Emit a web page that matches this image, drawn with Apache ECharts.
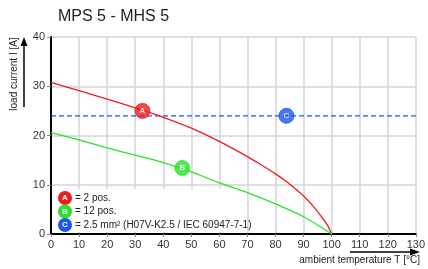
<!DOCTYPE html>
<html>
<head>
<meta charset="utf-8">
<script src="https://cdn.jsdelivr.net/npm/echarts@6/dist/echarts.min.js"></script>
<style>
  html, body { margin: 0; padding: 0; background: #fff; }
  #chart { width: 428px; height: 269px; }
</style>
</head>
<body>
<div id="chart"></div>
<script>
// derating curves: [temperature, current]
const curveA = [[0, 30.8], [10, 29.1], [20, 27.4], [30, 25.6], [40, 23.7], [50, 21.5], [60, 18.8],
  [70, 15.7], [75, 14.0], [80, 12.2], [84, 10.6], [87, 9.2], [90, 7.7], [93.5, 5.6], [96.5, 3.4],
  [98.5, 1.8], [100, 0]];
const curveB = [[0, 20.6], [10, 19.1], [20, 17.5], [30, 16.0], [40, 14.5], [50, 12.6], [60, 10.4],
  [70, 8.4], [80, 6.1], [90, 3.5], [100, 0]];
const wireLimit = 24;
const markA = [32.6, 25];
const markB = [46.8, 13.4];
const markC = [83.9, 24];
const legendTexts = ['= 2 pos.', '= 12 pos.', '= 2.5 mm² (H07V-K2.5 / IEC 60947-7-1)'];
const colRed = '#ee1c1c', colGreen = '#2ee02e', colBlue = '#1a56f0';

let myChart = echarts.init(document.getElementById('chart'));

function badge(pt, letter, color) {
  return {
    type: 'scatter', data: [pt], symbolSize: 15, z: 5,
    itemStyle: { color: color, borderColor: color },
    label: { show: true, position: 'inside', formatter: letter, color: '#fff', fontSize: 8, fontWeight: 'bold', fontFamily: 'Liberation Sans' }
  };
}

let legendItems = [];
const colors = [colRed, colGreen, colBlue];
['A', 'B', 'C'].forEach((l, i) => {
  let y = 198 + i * 13.5;
  legendItems.push({ type: 'circle', shape: { cx: 65, cy: y, r: 7 }, style: { fill: colors[i] }, z: 20 });
  legendItems.push({ type: 'text', x: 65, y: y, style: { text: l, fill: '#fff', font: 'bold 8px Liberation Sans', align: 'center', verticalAlign: 'middle' }, z: 21 });
  legendItems.push({ type: 'text', x: 75, y: y, style: { text: legendTexts[i], fill: '#222', font: '10px Liberation Sans', verticalAlign: 'middle' }, z: 21 });
});

let option = {
  animation: false,
  title: {
    text: 'MPS 5 - MHS 5', left: 53, top: 4,
    textStyle: { fontSize: 16, fontWeight: 'normal', color: '#222', fontFamily: 'Liberation Sans' }
  },
  grid: { left: 51, right: 8, top: 37, bottom: 35 },
  xAxis: {
    type: 'value', min: 0, max: 130, interval: 10,
    axisLine: { lineStyle: { color: '#000', width: 2 } },
    axisTick: { show: true, length: 3, lineStyle: { color: '#888' } },
    axisLabel: { color: '#333', fontSize: 11, margin: 5, fontFamily: 'Liberation Sans' },
    splitLine: { show: true, lineStyle: { color: '#d4d4d4', width: 1.5 } }
  },
  yAxis: {
    type: 'value', min: 0, max: 40, interval: 10,
    axisLine: { show: true, lineStyle: { color: '#000', width: 2 } },
    axisTick: { show: true, length: 4, lineStyle: { color: '#888' } },
    axisLabel: { color: '#333', fontSize: 11, margin: 6, fontFamily: 'Liberation Sans' },
    splitLine: { show: true, lineStyle: { color: '#d4d4d4', width: 1.5 } }
  },
  graphic: [
    // y axis name with arrow
    { type: 'text', x: 14, y: 74, rotation: Math.PI / 2,
      style: { text: 'load current I [A]', fill: '#222', font: '10px Liberation Sans', align: 'center', verticalAlign: 'middle' } },
    { type: 'line', shape: { x1: 24, y1: 107, x2: 24, y2: 44 }, style: { stroke: '#000', lineWidth: 1.5 } },
    { type: 'polygon', shape: { points: [[24, 37], [20.5, 46], [27.5, 46]] }, style: { fill: '#000' } },
    // x axis name with arrow
    { type: 'text', right: 8, top: 255,
      style: { text: 'ambient temperature T [°C]', fill: '#222', font: '10px Liberation Sans' } },
    { type: 'line', shape: { x1: 350, y1: 252, x2: 412, y2: 252 }, style: { stroke: '#000', lineWidth: 1.5 } },
    { type: 'polygon', shape: { points: [[420, 252], [410, 248.5], [410, 255.5]] }, style: { fill: '#000' } },
    // legend box
    { type: 'rect', shape: { x: 53, y: 189, width: 184, height: 43 }, style: { fill: '#fff' }, z: 19 }
  ].concat(legendItems),
  series: [
    { type: 'line', data: curveA, showSymbol: false, smooth: 0.3, lineStyle: { color: colRed, width: 1.3 }, z: 3 },
    { type: 'line', data: curveB, showSymbol: false, smooth: 0.3, lineStyle: { color: colGreen, width: 1.3 }, z: 3 },
    { type: 'line', data: [[0, wireLimit], [130, wireLimit]], showSymbol: false,
      lineStyle: { color: colBlue, width: 1.3, type: [5, 3] }, z: 2 },
    badge(markA, 'A', colRed),
    badge(markB, 'B', colGreen),
    badge(markC, 'C', colBlue)
  ]
};
myChart.setOption(option);
</script>
</body>
</html>
